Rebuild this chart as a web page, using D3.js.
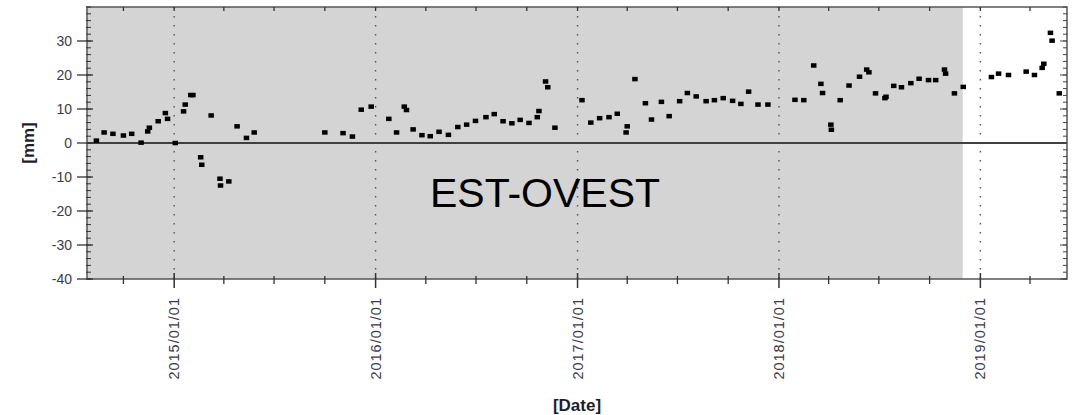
<!DOCTYPE html>
<html>
<head>
<meta charset="utf-8">
<script src="https://cdn.jsdelivr.net/npm/d3@7"></script>
<style>
  body { margin: 0; background: #fff; }
  svg { display: block; font-family: "Liberation Sans", Arial, sans-serif; }
</style>
</head>
<body>
<div id="chart"></div>
<script>
// measurement dates and east-west displacement [mm]
const dates = [
  "2014-08-13", "2014-08-27", "2014-09-12", "2014-10-01", "2014-10-16", "2014-11-02", "2014-11-14", "2014-11-17",
  "2014-12-03", "2014-12-16", "2014-12-20", "2015-01-03", "2015-01-18", "2015-01-21", "2015-01-31", "2015-02-04",
  "2015-02-18", "2015-02-20", "2015-03-09", "2015-03-25", "2015-03-26", "2015-04-10", "2015-04-25", "2015-05-12",
  "2015-05-26", "2015-10-01", "2015-11-03", "2015-11-20", "2015-12-06", "2015-12-24", "2016-01-25", "2016-02-08",
  "2016-02-22", "2016-02-26", "2016-03-09", "2016-03-25", "2016-04-09", "2016-04-25", "2016-05-12", "2016-05-29",
  "2016-06-14", "2016-06-30", "2016-07-19", "2016-08-03", "2016-08-19", "2016-09-04", "2016-09-19", "2016-10-05",
  "2016-10-20", "2016-10-23", "2016-11-04", "2016-11-08", "2016-11-21", "2017-01-09", "2017-01-25", "2017-02-10",
  "2017-02-27", "2017-03-14", "2017-03-30", "2017-04-01", "2017-04-15", "2017-05-04", "2017-05-15", "2017-06-02",
  "2017-06-16", "2017-07-05", "2017-07-19", "2017-08-04", "2017-08-22", "2017-09-06", "2017-09-22", "2017-10-09",
  "2017-10-24", "2017-11-07", "2017-11-24", "2017-12-12", "2018-01-30", "2018-02-15", "2018-03-05", "2018-03-18",
  "2018-03-21", "2018-04-05", "2018-04-06", "2018-04-22", "2018-05-08", "2018-05-27", "2018-06-09", "2018-06-13",
  "2018-06-25", "2018-07-12", "2018-07-14", "2018-07-28", "2018-08-11", "2018-08-28", "2018-09-12", "2018-09-29",
  "2018-10-12", "2018-10-28", "2018-10-30", "2018-11-15", "2018-12-01", "2019-01-21", "2019-02-03", "2019-02-21",
  "2019-03-25", "2019-04-09", "2019-04-23", "2019-04-26", "2019-05-08", "2019-05-11", "2019-05-24"
];
const values = [
  0.7, 3.1, 2.7, 2.2, 2.7, 0.1, 3.4, 4.5,
  6.4, 8.8, 7.1, 0.0, 9.3, 11.3, 14.1, 14.1,
  -4.2, -6.4, 8.1, -10.5, -12.5, -11.3, 4.9, 1.5,
  3.1, 3.1, 2.9, 1.9, 9.8, 10.7, 7.1, 3.1,
  10.7, 9.7, 4.0, 2.3, 2.0, 3.3, 2.4, 4.7,
  5.4, 6.5, 7.6, 8.5, 6.4, 5.8, 6.8, 5.9,
  7.6, 9.4, 18.1, 16.4, 4.5, 12.6, 6.0, 7.3,
  7.6, 8.6, 3.1, 4.9, 18.8, 11.7, 6.9, 12.1,
  7.9, 12.3, 14.7, 13.7, 12.3, 12.6, 13.2, 12.4,
  11.5, 15.1, 11.3, 11.3, 12.7, 12.6, 22.8, 17.4,
  14.7, 5.4, 3.9, 12.6, 16.9, 19.5, 21.6, 20.8,
  14.6, 13.2, 13.6, 16.8, 16.4, 17.6, 18.9, 18.5,
  18.5, 21.6, 20.4, 14.6, 16.5, 19.4, 20.4, 20.0,
  21.0, 20.0, 22.1, 23.3, 32.4, 30.1, 14.6
];
const yTicks = [-40, -30, -20, -10, 0, 10, 20, 30];
const xStart = "2014-07-27";
const xEnd = "2019-06-07";
const shadeEnd = "2018-11-30";   // grey background ends here
const title = "EST-OVEST";

const W = 1073, H = 415;
const M = { left: 87, right: 1067, top: 7, bottom: 279 };
const parse = d3.timeParse("%Y-%m-%d");
const data = dates.map((d, i) => ({ date: parse(d), v: values[i] }));

const svg = d3.select("#chart").append("svg").attr("width", W).attr("height", H);

const x = d3.scaleTime().domain([parse(xStart), parse(xEnd)]).range([M.left, M.right]);
const y = d3.scaleLinear().domain([-40, 40]).range([M.bottom, M.top]);

// grey band
svg.append("rect")
  .attr("x", M.left).attr("y", M.top)
  .attr("width", x(parse(shadeEnd)) - M.left)
  .attr("height", M.bottom - M.top)
  .attr("fill", "#d4d4d4");

const yearTicks = x.ticks(d3.timeYear.every(1));
const quarterTicks = x.ticks(d3.timeMonth.every(3)).filter(d => d.getMonth() !== 0);
const fmt = d3.timeFormat("%Y/%m/%d");

// dotted yearly grid
svg.selectAll(".grid").data(yearTicks).enter().append("line")
  .attr("x1", d => x(d)).attr("x2", d => x(d))
  .attr("y1", M.top).attr("y2", M.bottom)
  .attr("stroke", "#555").attr("stroke-width", 1.4)
  .attr("stroke-dasharray", "1.5,7.5");

// zero line
svg.append("line")
  .attr("x1", M.left).attr("x2", M.right)
  .attr("y1", y(0)).attr("y2", y(0))
  .attr("stroke", "#404040").attr("stroke-width", 2.2);

// frame
svg.append("rect")
  .attr("x", M.left).attr("y", M.top)
  .attr("width", M.right - M.left).attr("height", M.bottom - M.top)
  .attr("fill", "none").attr("stroke", "#555").attr("stroke-width", 1.5);

// y ticks (left and right)
const yMinor = d3.range(-40, 41, 2);
svg.selectAll(".ymin").data(yMinor).enter().append("line")
  .attr("x1", M.left - 1).attr("x2", M.left + 4)
  .attr("y1", d => y(d)).attr("y2", d => y(d))
  .attr("stroke", "#333").attr("stroke-width", 1);
svg.selectAll(".ymaj").data(yTicks).enter().append("line")
  .attr("x1", M.left - 10).attr("x2", M.left + 6)
  .attr("y1", d => y(d)).attr("y2", d => y(d))
  .attr("stroke", "#333").attr("stroke-width", 1.3);
svg.selectAll(".yminr").data(yMinor).enter().append("line")
  .attr("x1", M.right - 4).attr("x2", M.right)
  .attr("y1", d => y(d)).attr("y2", d => y(d))
  .attr("stroke", "#444").attr("stroke-width", 1);
svg.selectAll(".ymajr").data(yTicks).enter().append("line")
  .attr("x1", M.right - 7).attr("x2", M.right)
  .attr("y1", d => y(d)).attr("y2", d => y(d))
  .attr("stroke", "#444").attr("stroke-width", 1);

svg.selectAll(".ylab").data(yTicks).enter().append("text")
  .attr("x", M.left - 15).attr("y", d => y(d)).attr("dy", "0.36em")
  .attr("text-anchor", "end")
  .attr("font-size", 14).attr("fill", "#3b3b48")
  .text(d => d);

// x ticks (bottom and top)
svg.selectAll(".xq").data(quarterTicks).enter().append("line")
  .attr("x1", d => x(d)).attr("x2", d => x(d))
  .attr("y1", M.bottom - 3).attr("y2", M.bottom + 5)
  .attr("stroke", "#333").attr("stroke-width", 1.3);
svg.selectAll(".xy").data(yearTicks).enter().append("line")
  .attr("x1", d => x(d)).attr("x2", d => x(d))
  .attr("y1", M.bottom - 6).attr("y2", M.bottom + 9)
  .attr("stroke", "#333").attr("stroke-width", 1.5);
svg.selectAll(".xqt").data(quarterTicks.concat(yearTicks)).enter().append("line")
  .attr("x1", d => x(d)).attr("x2", d => x(d))
  .attr("y1", M.top).attr("y2", M.top + 4)
  .attr("stroke", "#333").attr("stroke-width", 1.3);

svg.selectAll(".xlab").data(yearTicks).enter().append("text")
  .attr("transform", d => `translate(${x(d) + 5}, ${M.bottom + 18}) rotate(-90)`)
  .attr("text-anchor", "end")
  .attr("font-size", 14.5).attr("letter-spacing", 1)
  .attr("fill", "#3b3b48")
  .text(d => fmt(d));

// points
svg.selectAll(".pt").data(data).enter().append("rect")
  .attr("x", d => x(d.date) - 2.75).attr("y", d => y(d.v) - 2.25)
  .attr("width", 5.5).attr("height", 4.5)
  .attr("fill", "#000");

// title inside plot
svg.append("text")
  .attr("x", 545).attr("y", 207)
  .attr("text-anchor", "middle")
  .attr("font-size", 41).attr("fill", "#000")
  .text(title);

// axis titles
svg.append("text")
  .attr("transform", `translate(34, ${y(0)}) rotate(-90)`)
  .attr("text-anchor", "middle")
  .attr("font-size", 17).attr("font-weight", "bold").attr("fill", "#1e1e2a")
  .text("[mm]");

svg.append("text")
  .attr("x", (M.left + M.right) / 2).attr("y", 411)
  .attr("text-anchor", "middle")
  .attr("font-size", 17).attr("font-weight", "bold").attr("fill", "#1e1e2a")
  .text("[Date]");
</script>
</body>
</html>
